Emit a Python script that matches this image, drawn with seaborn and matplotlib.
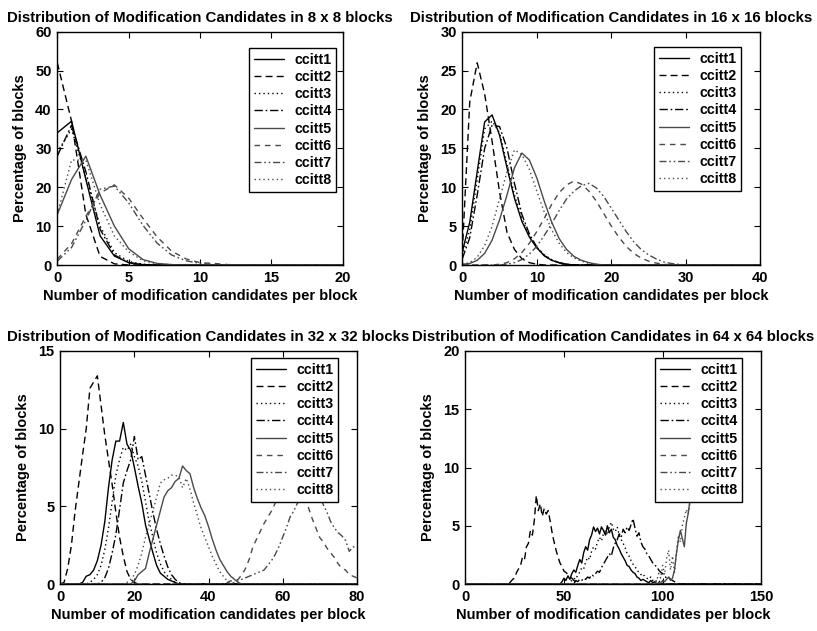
import numpy as np
import pandas as pd
import matplotlib
matplotlib.use("Agg")
import matplotlib.pyplot as plt
import seaborn as sns

series_names = ["ccitt1", "ccitt2", "ccitt3", "ccitt4",
                "ccitt5", "ccitt6", "ccitt7", "ccitt8"]

# Histograms of modification candidates per block (percent of blocks).
# Each series begins at the listed first bin; earlier bins are empty.

# 8 x 8 blocks
start_8 = [0, 0, 0, 0, 0, 0, 0, 0]
hist_8 = [
    [34, 37, 22, 7.5, 2.3, 0.6, 0.1, 0],
    [52, 37, 13, 2.2, 0.3, 0],
    [29, 35, 22.5, 10, 3.2, 0.9, 0.2, 0],
    [28, 36, 24, 9.2, 2.6, 0.6, 0.1, 0],
    [13, 22, 28, 18, 10, 4.2, 1.4, 0.4, 0.1, 0],
    [1.5, 5.5, 12.5, 18.5, 20.6, 17.2, 12, 7.2, 3.6, 1.6, 0.6, 0.4, 0.1, 0],
    [1, 4.5, 11.5, 19.5, 20.3, 16, 10.2, 5.6, 2.6, 1.1, 0.4, 0.1, 0],
    [13, 27, 27, 15.5, 7.5, 3.4, 1.1, 0.3, 0.1, 0],
]

# 16 x 16 blocks
start_16 = [0, 0, 0, 0, 0, 5, 6, 0]
hist_16 = [
    [1.7, 5.5, 12, 18.4, 19.3, 16.7, 12.5, 8.6, 5.6, 3.6, 2.2, 1.2, 0.6, 0.3, 0.1, 0],
    [1.7, 21, 26, 22, 15.9, 9.4, 4.2, 2, 0.8, 0.3, 0.1, 0],
    [1.2, 4.5, 11, 17.5, 18.5, 17, 13, 9, 6, 3.8, 2.3, 1.3, 0.7, 0.3, 0.1, 0],
    [0.8, 3.5, 9, 15, 18, 17.8, 15, 10.5, 6.5, 4, 2.3, 1.2, 0.6, 0.3, 0.1, 0],
    [0.1, 0.2, 0.6, 1.5, 3.2, 5.8, 9, 12.5, 14.4, 13.5, 11.2, 8.2, 5.5, 3.4, 2,
     1.1, 0.6, 0.3, 0.1, 0],
    [0.1, 0.3, 0.8, 1.6, 2.8, 4.3, 6, 7.8, 9.3, 10.3, 10.8, 10.4, 9.5, 8.2, 6.6,
     5, 3.6, 2.4, 1.5, 0.9, 0.5, 0.25, 0.1, 0],
    [0.1, 0.3, 0.7, 1.4, 2.4, 3.8, 5.3, 7, 8.5, 9.5, 10.2, 10.5, 9.9, 8.8, 7.3,
     5.8, 4.3, 3, 2, 1.3, 0.8, 0.4, 0.2, 0.1, 0],
    [0.1, 0.3, 1, 2.5, 5, 8.5, 12, 14.8, 14.2, 12.3, 9.5, 6.8, 4.5, 2.8, 1.6,
     0.9, 0.5, 0.2, 0.1, 0],
]

# 32 x 32 blocks
start_32 = [5, 1, 8, 11, 19, 44, 46, 17]
hist_32 = [
    [0, 0.1, 0.5, 0.6, 0.9, 1.5, 2.5, 4.0, 6.2, 8.0, 9.2, 9.2, 10.4, 9.0, 8.6,
     7.5, 6.3, 5.2, 3.8, 2.9, 2.0, 1.2, 0.7, 0.5, 0.3, 0.2, 0.1, 0],
    [0.1, 1.0, 2.5, 4.7, 6.5, 8.3, 10, 12.6, 13.0, 13.4, 11.5, 9.6, 8.0, 6.4,
     4.6, 3.0, 1.8, 0.8, 0.3, 0.1, 0],
    [0.1, 0.3, 0.6, 1.2, 2.2, 3.6, 5.3, 7.0, 8.0, 8.8, 8.6, 9.0, 8.2, 7.6, 6.6,
     5.3, 4.0, 3.0, 2.0, 1.3, 0.8, 0.5, 0.3, 0.1, 0],
    [0.1, 0.4, 1.0, 2.0, 3.2, 4.8, 6.5, 7.3, 8.0, 9.5, 8.0, 8.2, 7.0, 5.8, 4.6,
     3.5, 2.6, 1.8, 1.1, 0.6, 0.3, 0.1, 0],
    [0, 0.2, 0.6, 0.8, 1.0, 2.0, 2.9, 3.8, 4.7, 5.6, 6.0, 6.2, 6.6, 6.8, 7.6,
     7.3, 7.1, 6.2, 5.5, 4.9, 4.4, 3.7, 2.9, 2.2, 1.6, 1.2, 0.8, 0.5, 0.3, 0.1, 0],
    [0, 0.1, 0.2, 0.2, 0.3, 0.6, 1.0, 1.6, 2.4, 2.9, 3.4, 3.9, 4.3, 4.7, 5.2,
     5.6, 6.0, 6.3, 6.4, 6.2, 6.4, 5.9, 5.4, 4.9, 4.2, 3.6, 3.0, 2.7, 2.3, 2.0,
     1.7, 1.3, 1.0, 0.9, 0.6, 0.5, 0.4],
    [0, 0.1, 0.2, 0.3, 0.4, 0.5, 0.6, 0.7, 0.8, 0.9, 1.2, 1.5, 1.9, 2.4, 3.0,
     3.6, 4.3, 4.7, 5.2, 5.6, 5.9, 6.1, 6.0, 5.8, 5.6, 5.1, 4.6, 4.0, 3.6, 3.3,
     3.1, 2.8, 2.1, 2.4, 2.3],
    [0, 0.1, 0.3, 0.6, 1.2, 2.0, 3.0, 3.9, 4.7, 5.6, 6.5, 6.7, 6.8, 7.0, 7.0,
     6.9, 6.2, 6.8, 6.1, 5.2, 4.4, 3.6, 3.0, 2.4, 1.8, 1.3, 0.8, 0.5, 0.2, 0],
]

# 64 x 64 blocks
start_64 = [48, 22, 52, 55, 98, 0, 0, 96]
hist_64 = [
    [0, 0.2, 0.5, 0.3, 0.7, 0.4, 0.9, 1.2, 1.0, 1.6, 2.1, 1.8, 2.7, 3.2, 2.9,
     3.8, 4.2, 4.9, 4.5, 4.8, 4.3, 4.9, 4.6, 4.2, 5.0, 4.4, 4.7, 4.0, 3.8, 3.3,
     3.0, 2.6, 2.3, 2.0, 1.6, 1.5, 1.2, 1.0, 0.9, 0.6, 0.5, 0.3, 0.4, 0.3, 0.2,
     0.1, 0.3, 0.1, 0.2, 0, 0.1, 0],
    [0, 0.2, 0.4, 0.5, 1.0, 1.3, 1.6, 2.3, 2.1, 3.2, 3.5, 4.6, 4.2, 5.5, 7.6,
     6.3, 6.9, 5.8, 6.5, 6.0, 6.3, 5.4, 4.4, 3.6, 2.9, 2.3, 1.8, 1.5, 1.1, 1.0,
     0.8, 0.6, 0.5, 0.3, 0.2, 0.1, 0],
    [0, 0.2, 0.3, 0.5, 0.4, 0.8, 1.0, 1.4, 1.3, 1.9, 2.3, 2.1, 2.8, 3.2, 3.0,
     3.6, 4.0, 3.7, 4.3, 4.6, 4.2, 4.9, 5.3, 4.7, 4.5, 4.9, 4.2, 3.8, 3.5, 3.1,
     2.6, 2.4, 2.0, 1.7, 1.5, 1.2, 1.0, 0.8, 0.9, 0.6, 0.5, 0.4, 0.6, 0.3, 0.4,
     0.2, 0.3, 0.1, 0.2, 0.1, 0],
    [0, 0.3, 0.2, 0.4, 0.3, 0.5, 0.4, 0.6, 0.5, 0.8, 0.7, 0.9, 1.1, 1.0, 1.4,
     1.7, 2.0, 2.3, 2.6, 2.4, 3.1, 3.5, 3.8, 4.3, 4.0, 4.7, 4.4, 4.9, 4.6, 5.1,
     5.6, 4.8, 4.1, 4.4, 3.6, 3.2, 3.0, 2.6, 2.4, 2.1, 1.8, 1.6, 1.5, 1.2, 1.0,
     0.9, 0.7, 0.5, 0.6, 0.4, 0.3, 0.2, 0.1, 0],
    [0, 0.1, 0.3, 0.2, 0.4, 0.6, 0.3, 0.5, 1.2, 2.6, 3.8, 4.6, 3.9, 3.2, 5.2,
     6.1, 7.4, 8.6, 9.5],
    [0],
    [0],
    [0, 0.3, 0.9, 0.5, 1.6, 0.8, 2.2, 2.9, 1.2, 2.4, 1.0, 2.8, 4.2, 3.6, 5.0,
     5.7, 6.4, 6.0, 7.2, 8.4, 9.8],
]

block_sizes = [8, 16, 32, 64]
x_limits = [20, 40, 80, 150]
y_limits = [60, 30, 15, 20]
x_steps = [5, 10, 20, 50]
y_steps = [10, 5, 5, 5]
starts = [start_8, start_16, start_32, start_64]
hists = [hist_8, hist_16, hist_32, hist_64]

# Line appearance per image: the first four are black, the second four grey
palette = {n: ("#000000" if i < 4 else "#4a4a4a") for i, n in enumerate(series_names)}
dash_map = {
    "ccitt1": "",
    "ccitt2": (5, 3),
    "ccitt3": (1, 2.2),
    "ccitt4": (6, 2, 1.2, 2),
    "ccitt5": "",
    "ccitt6": (4, 3.5),
    "ccitt7": (5, 2, 1.2, 2, 1.2, 2),
    "ccitt8": (1, 2.2),
}

sns.set_theme(style="ticks")
plt.rcParams.update({
    "font.family": ["Liberation Sans", "DejaVu Sans"],
    "font.weight": "bold",
    "axes.labelweight": "bold",
    "axes.titleweight": "bold",
    "xtick.direction": "in",
    "ytick.direction": "in",
    "xtick.top": True,
    "ytick.right": True,
    "xtick.major.size": 4,
    "ytick.major.size": 4,
    "xtick.major.width": 0.8,
    "ytick.major.width": 0.8,
    "axes.linewidth": 1.0,
    "axes.edgecolor": "black",
    "xtick.color": "black",
    "ytick.color": "black",
    "text.color": "black",
    "axes.labelcolor": "black",
})

W, H = 817, 631
fig = plt.figure(figsize=(W / 100, H / 100), dpi=100)
fig.patch.set_facecolor("white")

# axes boxes in pixels: left, top, right, bottom
boxes = [(57.3, 31.7, 342.7, 265.0), (462.3, 31.7, 760.3, 265.0),
         (60.3, 351.0, 356.7, 584.0), (465.3, 351.0, 761.3, 584.0)]
# legend frame top-left corners in pixels
legend_corners = [(249, 48), (654, 47), (251, 358), (655, 358)]

for k in range(4):
    l, t, r, b = boxes[k]
    ax = fig.add_axes([l / W, 1 - b / H, (r - l) / W, (b - t) / H])
    xmax = x_limits[k]
    rows = []
    for name, s, vals in zip(series_names, starts[k], hists[k]):
        vals = list(vals)
        xs = list(range(0, s)) + [s + i for i in range(len(vals))]
        ys = [0.0] * s + vals
        # distributions that have died out continue along zero to the axis end
        if vals[-1] == 0:
            last = xs[-1]
            xs += list(range(last + 1, xmax + 1))
            ys += [0.0] * (xmax - last)
        for xv, yv in zip(xs, ys):
            rows.append({"candidates": xv, "percent": yv, "image": name})
    df = pd.DataFrame(rows)
    sns.lineplot(data=df, x="candidates", y="percent", hue="image",
                 style="image", palette=palette, dashes=dash_map,
                 hue_order=series_names, style_order=series_names,
                 estimator=None, sort=False, linewidth=1.0, ax=ax)
    ax.set_xlim(0, xmax)
    ax.set_ylim(0, y_limits[k])
    ax.set_xticks(np.arange(0, xmax + 1, x_steps[k]))
    ax.set_yticks(np.arange(0, y_limits[k] + 1, y_steps[k]))
    ax.tick_params(labelsize=10.5, pad=4)
    for lab in ax.get_xticklabels() + ax.get_yticklabels():
        lab.set_fontweight("bold")
    ax.set_xlabel("Number of modification candidates per block",
                  fontsize=10.5, labelpad=3)
    ax.set_ylabel("Percentage of blocks", fontsize=10.5, labelpad=6)
    n = block_sizes[k]
    ax.set_title(f"Distribution of Modification Candidates in {n} x {n} blocks",
                 fontsize=10.8, pad=7)
    handles, labels = ax.get_legend_handles_labels()
    lx, ly = legend_corners[k]
    leg = ax.legend(handles, labels, loc="upper left",
                    bbox_to_anchor=(lx / W, 1 - ly / H),
                    bbox_transform=fig.transFigure, borderaxespad=0,
                    fontsize=10.3, frameon=True, fancybox=False, framealpha=1,
                    edgecolor="black", handlelength=2.1, handletextpad=0.7,
                    borderpad=0.35, labelspacing=0.22)
    leg.get_frame().set_linewidth(1.0)
    for txt in leg.get_texts():
        txt.set_fontweight("bold")
    for spine in ax.spines.values():
        spine.set_visible(True)

fig.savefig("out.png", dpi=100, facecolor="white")
